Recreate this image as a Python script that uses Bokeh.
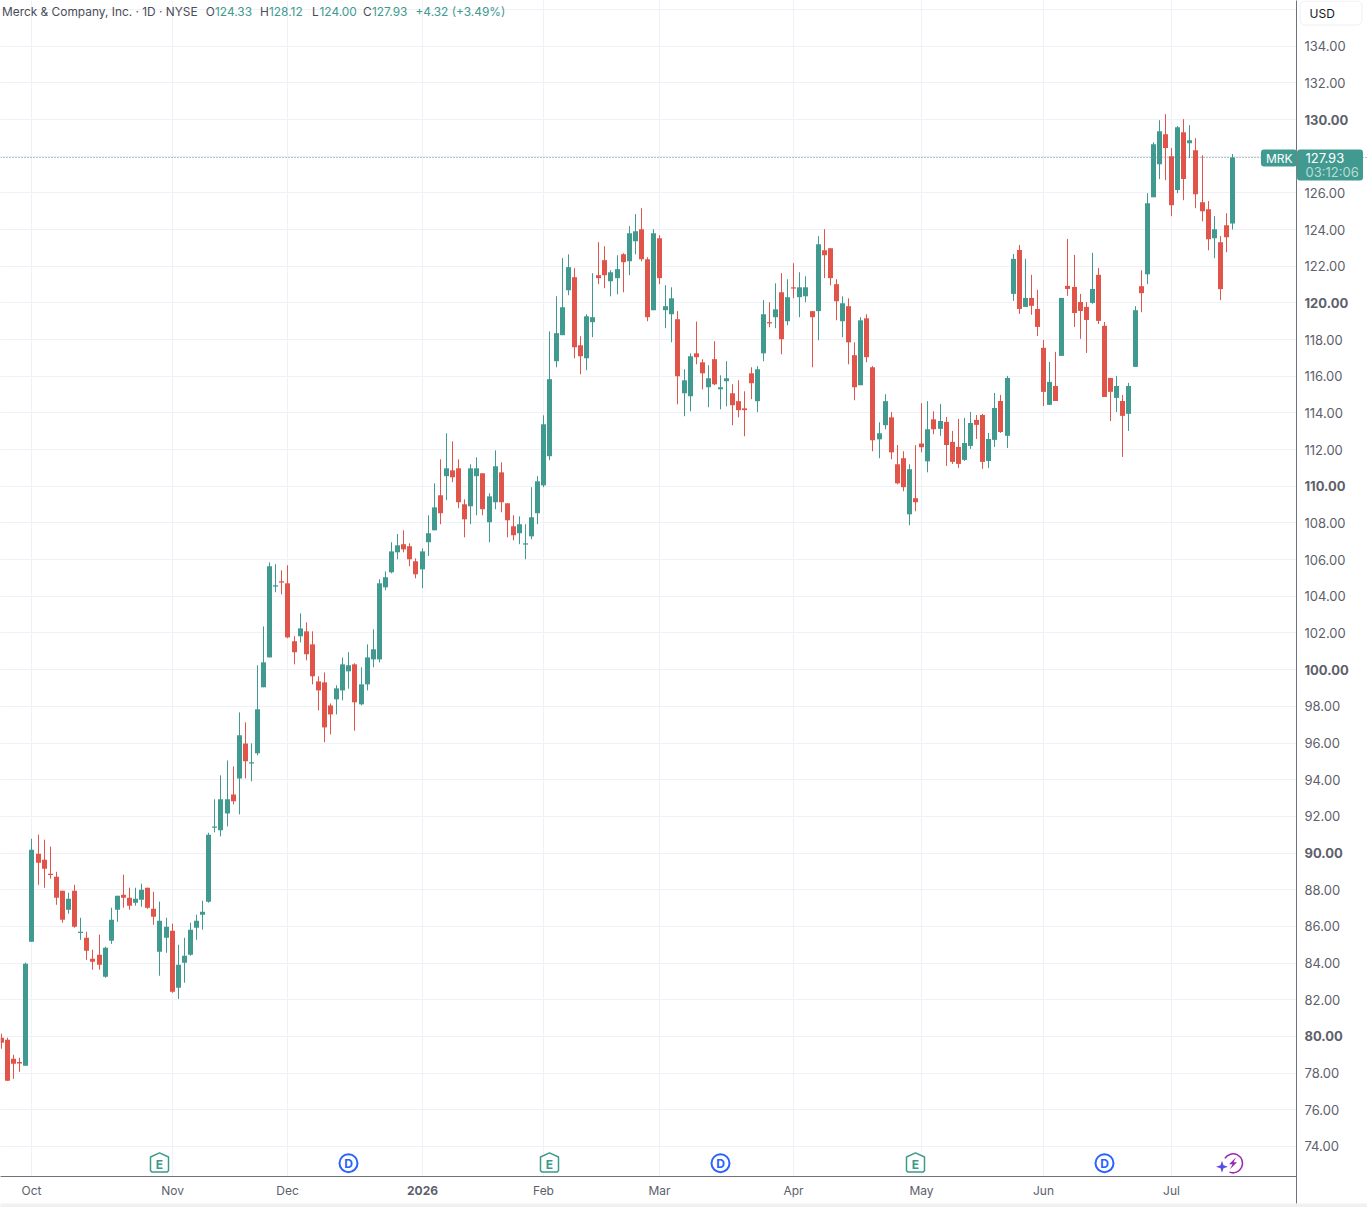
from bokeh.embed import file_html
from bokeh.resources import INLINE
from bokeh.plotting import figure
from bokeh.models import (ColumnDataSource, FixedTicker, Label, BoxAnnotation, Span, Range1d, LinearAxis, Grid)

open_ = [79.93,79.82,78.78,78.6,78.4,85.16,89.96,89.64,88.87,88.71,
 87.95,86.91,87.95,85.65,85.38,84.24,84.45,83.25,85.22,86.91,
 87.73,87.56,87.29,87.45,88.11,86.96,84.62,85.38,85.76,82.65,
 84.02,84.45,85.93,86.64,87.35,91.4,91.24,92.16,93.2,94.07,
 95.98,94.91,95.44,99.04,100.67,104.56,104.82,104.71,101.55,101.82,
 102.09,101.38,99.36,99.31,98.05,98.38,98.87,99.91,100.29,98.11,
 99.2,100.56,100.56,104.49,105.31,106.4,106.84,106.73,105.91,105.47,
 106.95,107.6,109.51,110.55,110.87,110.98,109.02,108.91,110.55,110.71,
 108.04,109.13,110.76,109.07,107.82,107.44,106.84,107.27,108.53,110.05,
 111.64,116.82,118.24,120.69,121.4,117.69,116.98,118.95,121.51,122.33,
 121.18,121.35,122.65,122.27,123.36,124.02,122.38,119.6,123.53,119.6,
 119.38,119.11,115.07,114.91,117.25,116.76,115.4,116.93,115.29,115.73,
 115.07,114.64,114.25,116.16,114.64,117.25,118.95,119.22,120.58,119.0,
 120.85,120.31,120.36,119.55,119.55,122.87,122.98,121.02,119.0,119.82,
 117.15,115.51,119.16,116.49,112.56,113.33,113.76,111.2,111.53,108.47,
 109.35,112.33,111.36,113.65,113.13,113.51,112.42,112.15,111.44,112.2,
 113.62,113.89,111.38,112.53,114.65,112.75,120.49,122.89,119.78,120.27,
 119.67,117.55,114.44,115.47,117.11,120.93,120.87,120.05,119.78,120.0,
 121.53,118.75,115.91,114.82,114.65,113.95,116.51,120.91,121.56,125.76,
 127.56,129.2,128.0,126.15,129.31,128.71,128.33,125.49,125.11,123.53,
 123.31,124.24,124.33]

high = [80.15,79.93,79.0,78.84,84.02,90.78,91.0,90.73,90.35,88.98,
 87.95,87.84,88.27,86.47,85.71,84.73,85.55,84.89,87.02,87.67,
 88.82,88.11,88.11,88.33,88.11,87.89,87.35,86.47,86.15,85.0,
 85.38,86.2,86.64,87.4,91.11,92.93,94.24,95.05,94.73,97.67,
 97.13,95.98,100.24,102.36,105.85,105.75,105.42,105.69,101.82,103.07,
 102.58,102.09,99.64,99.85,98.16,99.15,100.67,100.95,100.35,100.13,
 101.38,102.2,104.93,105.36,106.95,107.4,107.6,106.89,106.07,106.62,
 108.42,110.16,111.47,112.89,112.45,111.47,109.29,111.2,111.58,110.71,
 109.62,111.96,111.31,109.07,108.42,108.36,107.93,109.95,110.55,113.87,
 118.45,120.36,122.44,122.65,121.89,118.18,119.38,121.62,123.31,123.09,
 121.78,122.6,122.71,124.18,124.84,125.16,122.49,124.02,123.69,120.96,
 120.85,119.55,116.38,117.25,118.98,116.93,116.6,117.91,116.05,116.82,
 115.56,115.78,115.18,116.49,116.55,120.15,120.04,121.07,121.62,121.29,
 122.16,121.67,121.45,119.55,123.64,124.02,122.98,121.29,120.36,120.25,
 117.85,119.22,119.38,116.55,113.49,115.02,114.04,112.25,111.91,111.2,
 112.24,114.53,114.64,114.09,114.49,113.78,113.02,113.67,113.73,114.05,
 113.89,113.95,112.91,115.09,114.98,116.02,122.67,123.16,122.4,121.53,
 120.71,117.98,116.78,117.33,120.27,123.49,122.62,120.49,120.05,122.73,
 121.91,118.96,115.91,116.02,114.98,115.64,119.82,121.78,125.98,128.76,
 129.96,130.29,128.44,129.64,130.02,129.69,128.98,128.05,125.55,124.73,
 123.64,124.89,128.12]

low = [79.33,77.58,77.69,78.07,78.4,85.16,88.27,88.11,88.6,87.18,
 86.2,86.69,85.93,85.27,84.18,83.64,83.64,83.2,85.05,86.25,
 87.02,86.91,87.13,87.07,86.96,86.09,83.31,84.56,82.38,82.05,
 82.93,84.4,85.27,85.82,87.29,91.13,90.91,91.45,92.65,92.11,
 94.07,93.91,95.33,99.04,100.67,104.22,104.11,101.71,100.29,101.49,
 100.51,99.2,97.78,96.04,96.47,97.56,98.33,98.96,96.67,98.05,
 98.87,100.13,100.4,104.33,105.25,106.02,106.4,105.64,104.98,104.44,
 106.2,107.6,107.93,109.24,110.22,108.8,107.22,107.93,108.42,108.42,
 106.95,108.75,108.58,107.22,107.05,106.84,106.02,107.11,107.93,109.95,
 111.42,116.49,118.24,120.42,116.98,116.11,116.33,118.13,121.02,120.8,
 120.36,120.47,120.58,121.51,122.65,122.27,119.0,119.6,121.02,118.62,
 117.85,114.47,113.82,114.09,116.65,115.29,114.31,115.51,114.2,114.36,
 113.33,113.76,112.73,114.75,114.04,116.82,118.67,118.62,117.2,118.78,
 120.25,119.22,120.04,116.49,117.96,121.35,120.96,119.05,118.13,116.65,
 114.69,115.51,116.76,111.91,111.53,113.11,111.47,110.11,109.73,107.87,
 108.64,111.85,110.76,112.84,112.75,111.11,111.22,111.0,111.38,112.04,
 112.58,110.95,111.0,112.15,112.91,112.09,120.11,119.4,119.78,119.35,
 118.2,114.38,114.44,114.65,117.11,120.38,118.69,118.04,117.27,119.95,
 118.85,114.87,113.56,114.05,111.6,113.02,116.51,119.49,121.02,125.76,
 126.75,126.69,124.73,125.98,125.6,127.89,125.16,124.45,122.87,122.44,
 120.15,122.76,124.0]

close = [79.65,77.58,78.51,78.56,83.96,90.18,89.47,89.15,88.84,87.56,
 86.36,87.51,85.98,85.71,84.67,84.07,83.91,84.84,86.36,87.67,
 87.56,87.13,87.51,88.0,87.02,86.53,86.31,85.98,82.44,83.91,
 84.4,85.82,86.31,86.8,91.0,91.45,92.93,92.93,92.82,96.42,
 95.0,94.95,97.84,100.4,105.64,104.6,104.78,101.76,100.95,102.25,
 100.84,99.64,98.87,96.85,97.56,98.98,100.29,100.24,98.22,99.2,
 100.67,101.11,104.71,105.04,106.45,106.78,106.56,106.02,105.2,106.45,
 107.44,108.85,108.53,110.98,110.49,109.13,108.2,110.98,110.98,108.75,
 109.45,111.09,109.13,108.15,107.33,107.93,106.89,108.31,110.27,113.38,
 115.84,118.35,119.76,121.95,117.58,117.09,119.27,119.22,121.35,121.51,
 121.67,121.84,122.22,123.8,123.91,122.38,119.22,123.8,121.35,119.82,
 120.25,116.0,115.78,117.09,117.04,116.16,115.89,115.56,115.4,115.89,
 114.42,114.15,114.15,115.62,116.38,119.38,118.89,119.65,118.02,120.31,
 120.8,120.85,120.85,119.22,123.2,122.6,121.35,120.09,119.98,117.85,
 115.4,119.05,117.04,112.51,112.89,114.64,111.85,110.16,109.95,110.93,
 109.13,112.13,113.11,113.11,113.56,112.25,111.33,111.22,112.36,113.45,
 113.35,111.33,112.58,114.27,112.96,115.91,122.4,119.67,120.27,119.84,
 118.69,115.15,115.69,114.65,120.27,120.76,119.45,119.56,119.07,120.76,
 119.02,114.87,115.15,115.47,113.84,115.47,119.6,120.53,125.44,128.65,
 129.36,128.44,125.33,129.58,126.75,128.87,125.93,125.0,123.47,124.02,
 120.75,123.58,127.93]

month_bars = [5, 28, 47, 69, 89, 108, 130, 151, 171, 192]
month_labels = ["Oct", "Nov", "Dec", "2026", "Feb", "Mar", "Apr", "May", "Jun", "Jul"]
price_ticks = list(range(74, 138, 2))
bold_prices = [80, 90, 100, 110, 120, 130]
earnings_bars = [26, 90, 150]
dividend_bars = [57, 118, 181]
step_bars = [5, 15, 26, 36, 47, 58, 68, 79, 90, 100, 111, 122, 132, 143, 153, 164, 175, 185, 196]

GREEN, RED = "#419A8F", "#E0544A"
TXT = "#5D606B"
GRID = "#EFF0F8"
AX = "#6F717C"
FONT = "Inter"

PX0, PY130, SX, SY = 7.5, 119.5, 6.095, 18.339
def X(px): return 1 + (px - PX0) / SX
def Y(py): return 130 - (py - PY130) / SY
def centre(i): return 1.5 + 6 * i + sum(1 for s in step_bars if i > s)
def slot(i): return X(centre(i))

n = len(open_)
xs = [slot(i) for i in range(n)]
top = [max(a, b) for a, b in zip(open_, close)]
bot = [min(a, b) for a, b in zip(open_, close)]
bot = [b if t - b > 0.07 else t - 0.07 for t, b in zip(top, bot)]
col = [GREEN if c >= o else RED for o, c in zip(open_, close)]
src = ColumnDataSource(dict(x=xs, high=high, low=low, top=top, bot=bot, col=col))

month_ticks = [slot(b) for b in month_bars]

W, H = 1367, 1207
p = figure(width=W, height=H, output_backend="svg", toolbar_location=None,
           x_range=Range1d(X(0.5), X(W + 0.5)), y_range=Range1d(Y(H + 0.5), Y(0.5)),
           x_axis_type=None, y_axis_type=None, min_border=0,
           background_fill_color="white", tools="")
p.outline_line_color = None

for dim, ticks in ((0, month_ticks), (1, price_ticks)):
    p.add_layout(Grid(dimension=dim, ticker=FixedTicker(ticks=ticks), grid_line_color=GRID, grid_line_width=1))

def box(l, r, t, b, fill, line=None, radius=0, level="overlay"):
    p.add_layout(BoxAnnotation(left=X(l), right=X(r), top=Y(t), bottom=Y(b), fill_color=fill, fill_alpha=1,
                               line_color=line, line_alpha=1 if line else 0, line_width=1,
                               border_radius=radius, level=level))

box(1296.5, W + 1, 0, H + 1, "white", level="underlay")
box(0, W + 1, 1176.5, H + 1, "white", level="underlay")

p.add_layout(Span(location=close[-1], dimension="width", line_color="#5E8F8B", line_width=1,
                  line_dash="1 2", level="underlay"))

def axis(side, ticks, overrides, style):
    if side == "right":
        a = LinearAxis(fixed_location=X(1296.5), bounds=(Y(1203), Y(0)))
        a.major_label_standoff = 8
        a.major_label_text_font_size = "13px"
    else:
        a = LinearAxis(fixed_location=Y(1176.5), bounds=(X(0), X(1296.5)))
        a.major_label_standoff = 6 if style == "normal" else 9
        a.major_label_text_font_size = "12px"
    a.ticker = FixedTicker(ticks=ticks)
    a.major_label_overrides = overrides
    a.axis_line_color = AX
    a.axis_line_width = 1
    a.major_tick_line_color = None
    a.minor_tick_line_color = None
    a.major_tick_in = 0
    a.major_tick_out = 0
    a.major_label_text_font = FONT
    a.major_label_text_color = TXT
    a.major_label_text_font_style = style
    p.add_layout(a, side)

price_text = {t: f"{t}.00" for t in price_ticks}
month_text = dict(zip(month_ticks, month_labels))
axis("right", [t for t in price_ticks if t not in bold_prices], price_text, "normal")
axis("right", bold_prices, price_text, "bold")
axis("below", [t for t, l in zip(month_ticks, month_labels) if l != "2026"], month_text, "normal")
axis("below", [t for t, l in zip(month_ticks, month_labels) if l == "2026"], month_text, "bold")

def lab(text, px, py, color=TXT, size="12px", style="normal", align="left", baseline="middle"):
    p.add_layout(Label(x=X(px), y=Y(py), text=text, text_color=color, text_font=FONT, text_font_size=size,
                       text_font_style=style, text_align=align, text_baseline=baseline, level="overlay"))

p.segment("x", "high", "x", "low", source=src, line_color="col", line_width=1)
p.vbar(x="x", top="top", bottom="bot", width=5 / SX, source=src, fill_color="col", line_color=None)

def patch_px(cx, cy, pts, **kw):
    p.patch([X(cx + a) for a, b in pts], [Y(cy + b) for a, b in pts], **kw)

ICON_Y = 1162.5
E_GREEN = "#3C9A8A"
for b in earnings_bars:
    cx = centre(b)
    house = [(0, -9.6), (9, -5.5), (9, 8.3), (7.5, 9.6), (-7.5, 9.6), (-9, 8.3), (-9, -5.5)]
    patch_px(cx, ICON_Y, house, fill_color="white", line_color=E_GREEN, line_width=1.5)
    lab("E", cx, ICON_Y + 1.5, color=E_GREEN, size="12px", style="bold", align="center")
for b in dividend_bars:
    cx = centre(b)
    p.scatter([X(cx)], [Y(ICON_Y + 0.7)], size=18, marker="circle", fill_color="white",
              line_color="#2962FF", line_width=2)
    lab("D", cx, ICON_Y + 1, color="#2962FF", size="12px", style="bold", align="center")

LX, LY = 1233, 1163.3
p.arc([X(LX)], [Y(LY)], radius=9.5, radius_units="screen", start_angle=-1.95, end_angle=2.6,
      line_color="#9C27B0", line_width=1.6)
patch_px(LX, LY, [(3, -6), (-4, 1), (-0.5, 1), (-3, 6), (4, -1), (0.5, -1)],
         fill_color="#9C27B0", line_color=None)
patch_px(1222, 1166.7, [(0, -6), (1.5, -1.5), (6, 0), (1.5, 1.5), (0, 6), (-1.5, 1.5), (-6, 0), (-1.5, -1.5)],
         fill_color="#5B4BE0", line_color=None)

box(0, W + 1, 1203.5, H + 1, "#F1F1F3")
box(1300, 1362, 1, 25, "white", line="#EDEEF2", radius=5)
lab("USD", 1309.5, 13, color="#131722", size="12px")

box(1261, 1297, 149.5, 166.5, GREEN, radius=3)
box(1297, 1363, 149.5, 180.5, GREEN, radius=3)
box(1296, 1297, 149.5, 180.5, "#7C8084")
lab("MRK", 1266, 158, color="white")
lab(f"{close[-1]:.2f}", 1305.5, 158, color="white", size="13px")
lab("03:12:06", 1305.5, 172, color="#B7DCD6", size="13px")

HDR = "#4A4D57"
lab("Merck & Company, Inc. · 1D · NYSE", 2, 11.5, color=HDR, size="11.9px")
for x1, s, x2, v in [(205.7, "O", 215, open_[-1]), (260, "H", 269, high[-1]),
                     (312, "L", 319.5, low[-1]), (363, "C", 372, close[-1])]:
    lab(s, x1, 11.5, color=HDR, size="11.9px")
    lab(f"{v:.2f}", x2, 11.5, color=GREEN, size="11.9px")
lab("+4.32 (+3.49%)", 415.5, 11.5, color=GREEN, size="11.9px")

open("out.html", "w").write(file_html(p, INLINE))
